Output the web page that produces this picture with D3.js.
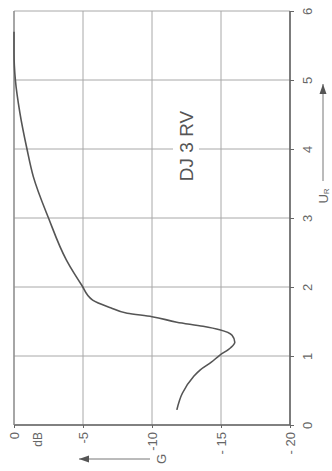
<!DOCTYPE html>
<html>
<head>
<meta charset="utf-8">
<script src="https://cdn.jsdelivr.net/npm/d3@7"></script>
<style>
  body { margin: 0; background: #fff; }
  svg { display: block; }
  text { font-family: "Liberation Sans Narrow", "Liberation Sans", sans-serif; fill: #666; }
</style>
</head>
<body>
<div id="chart"></div>
<script>
// U_R values along the (rotated) horizontal axis, G in dB
var uTicks = [0, 1, 2, 3, 4, 5, 6]
var gTicks = [0, -5, -10, -15, -20]
var gLabels = ["0", "-5", "-10", "- 15", "- 20"]

var uValues = [0.22, 0.46, 0.70, 0.80, 0.91, 1.01, 1.12, 1.20, 1.30, 1.38, 1.43, 1.49, 1.57, 1.62, 1.70, 1.81, 2.03, 2.2, 2.39, 3.0, 3.6, 4.0, 4.52, 5.0, 5.4, 5.7]
var gValues = [-11.8, -12.2, -13.0, -13.5, -14.3, -14.9, -15.7, -16.0, -15.8, -14.9, -13.7, -11.8, -10.0, -8.2, -7.0, -5.7, -4.9, -4.35, -3.8, -2.5, -1.4, -0.94, -0.43, -0.1, 0, 0]

var width = 332, height = 471

var svg = d3.select("#chart")
    .append("svg")
    .attr("width", width)
    .attr("height", height)

// chart is printed turned by 90 degrees: U runs upward, G runs to the right
var u = d3.scaleLinear().domain([0, 6]).range([425, 11])
var g = d3.scaleLinear().domain([0, -20]).range([14, 290])

// grid
svg.append("g")
    .selectAll("line.ugrid")
    .data(uTicks)
    .enter()
    .append("line")
    .attr("x1", g(0)).attr("x2", g(-20))
    .attr("y1", function(d){ return u(d) })
    .attr("y2", function(d){ return u(d) })
    .attr("stroke", "#a8a8a8")
    .attr("stroke-width", 1)

svg.append("g")
    .selectAll("line.ggrid")
    .data(gTicks)
    .enter()
    .append("line")
    .attr("y1", u(0)).attr("y2", u(6))
    .attr("x1", function(d){ return g(d) })
    .attr("x2", function(d){ return g(d) })
    .attr("stroke", "#a8a8a8")
    .attr("stroke-width", 1)

// frame: bottom and right sides are heavier
svg.append("line")
    .attr("x1", g(0)).attr("x2", g(-20)).attr("y1", u(0)).attr("y2", u(0))
    .attr("stroke", "#666").attr("stroke-width", 1.6)
svg.append("line")
    .attr("x1", g(-20)).attr("x2", g(-20)).attr("y1", u(0)).attr("y2", u(6))
    .attr("stroke", "#666").attr("stroke-width", 1.6)
svg.append("line")
    .attr("x1", g(0)).attr("x2", g(0)).attr("y1", u(0)).attr("y2", u(6))
    .attr("stroke", "#888").attr("stroke-width", 1.2)

// label in the plot, with white behind so the grid line breaks
var labelX = 186, labelY = 146
svg.append("rect")
    .attr("x", labelX - 13).attr("y", labelY - 40)
    .attr("width", 26).attr("height", 80)
    .attr("fill", "#fff")
svg.append("text")
    .text("DJ 3 RV")
    .attr("transform", "translate(" + labelX + "," + labelY + ") rotate(-90)")
    .attr("text-anchor", "middle")
    .attr("dy", "0.35em")
    .attr("font-size", "19px")
    .style("fill", "#555")

// curve, drawn from high U down so screen y increases (monotone in y)
var pts = uValues.map(function(v, i){ return [v, gValues[i]] }).reverse()
var line = d3.line()
    .x(function(d){ return g(d[1]) })
    .y(function(d){ return u(d[0]) })
    .curve(d3.curveMonotoneY)

svg.append("path")
    .attr("d", line(pts))
    .attr("fill", "none")
    .attr("stroke", "#555")
    .attr("stroke-width", 1.6)

// U axis on the right
var uAxis = svg.append("g")
    .attr("transform", "translate(" + g(-20) + ",0)")
    .call(d3.axisRight(u).tickValues(uTicks).tickSize(4).tickFormat(d3.format("d")))
uAxis.select(".domain").remove()
uAxis.selectAll("line").attr("stroke", "#666")
uAxis.selectAll("text")
    .attr("x", 0).attr("dy", null)
    .attr("transform", "translate(17,0) rotate(-90)")
    .attr("text-anchor", "middle")
    .attr("dominant-baseline", "central")
    .attr("font-size", "13px")
    .style("fill", "#666")

// G axis at the bottom
var gAxis = svg.append("g")
    .attr("transform", "translate(0," + u(0) + ")")
    .call(d3.axisBottom(g).tickValues(gTicks).tickSize(3).tickFormat(function(d, i){ return gLabels[i] }))
gAxis.select(".domain").remove()
gAxis.selectAll("line").attr("stroke", "#666")
gAxis.selectAll("text")
    .attr("y", 0).attr("dy", null)
    .attr("transform", "translate(0,7) rotate(-90)")
    .attr("text-anchor", "end")
    .attr("dominant-baseline", "central")
    .attr("font-size", "13px")
    .style("fill", "#666")

// unit
svg.append("text")
    .text("dB")
    .attr("transform", "translate(38,432) rotate(-90)")
    .attr("text-anchor", "end")
    .attr("dominant-baseline", "central")
    .attr("font-size", "12px")

// axis names with arrows
function arrow(x1, y1, x2, y2){
    svg.append("line")
        .attr("x1", x1).attr("y1", y1).attr("x2", x2).attr("y2", y2)
        .attr("stroke", "#777").attr("stroke-width", 1)
    var a = Math.atan2(y2 - y1, x2 - x1)
    var l = 10, w = 3.5
    var bx = x2 - l * Math.cos(a), by = y2 - l * Math.sin(a)
    svg.append("path")
        .attr("d", "M" + x2 + "," + y2 +
            "L" + (bx - w * Math.sin(a)) + "," + (by + w * Math.cos(a)) +
            "L" + (bx + w * Math.sin(a)) + "," + (by - w * Math.cos(a)) + "Z")
        .attr("fill", "#555")
}

arrow(150, 459, 79, 459)
svg.append("text")
    .text("G")
    .attr("transform", "translate(161,459) rotate(-90)")
    .attr("text-anchor", "middle")
    .attr("dominant-baseline", "central")
    .attr("font-size", "13px")

arrow(323, 181, 323, 84)
var ur = svg.append("text")
    .attr("transform", "translate(323,196) rotate(-90)")
    .attr("text-anchor", "middle")
    .attr("dominant-baseline", "central")
    .attr("font-size", "13px")
ur.append("tspan").text("U")
ur.append("tspan").text("R").attr("font-size", "8px").attr("dy", "3")
</script>
</body>
</html>
